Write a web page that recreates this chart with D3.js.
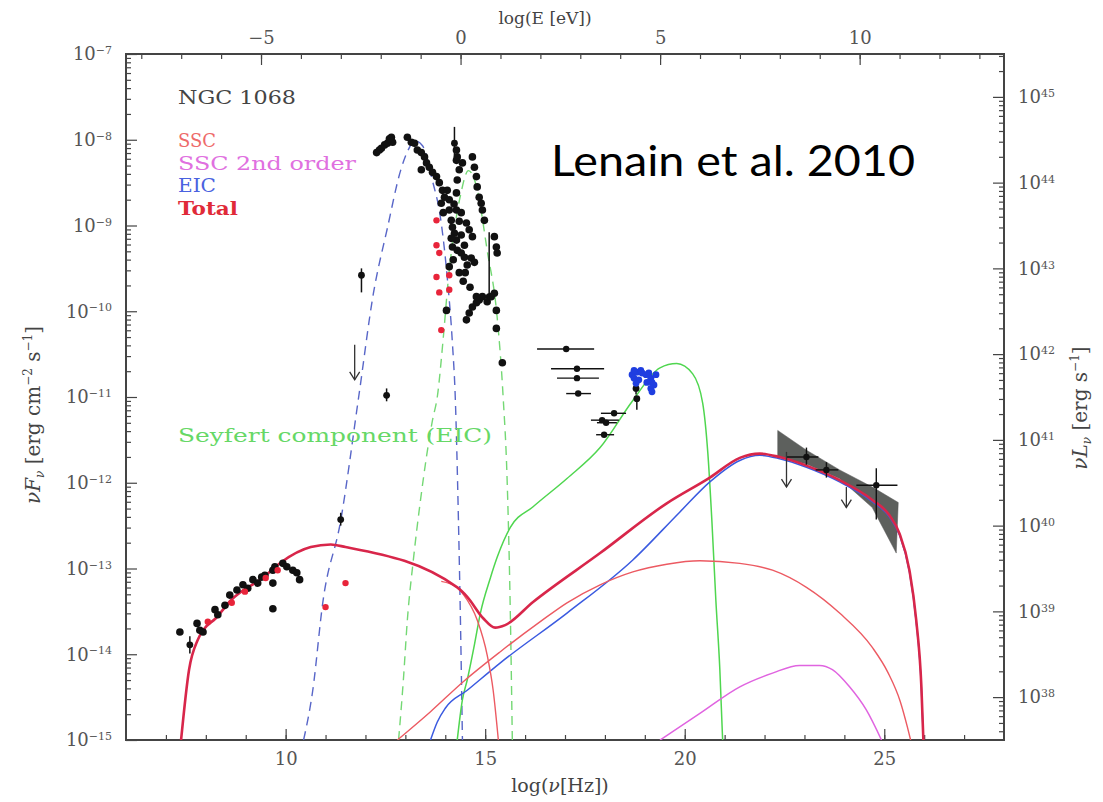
<!DOCTYPE html>
<html>
<head>
<meta charset="utf-8">
<script src="https://cdn.jsdelivr.net/npm/d3@7"></script>
<style>
  body { margin: 0; background: #fff; }
  svg text { font-family: "DejaVu Serif", serif; }
</style>
</head>
<body>
<svg id="chart" width="1103" height="802"></svg>
<script>
// all values as [log nu (Hz), log nuF_nu (erg cm^-2 s^-1)]
const totalModel = [[7.38,-15.0],[7.58,-14.18],[7.8,-13.83],[7.93,-13.72],[8.25,-13.58],[8.63,-13.37],[9.45,-13.1],
  [9.88,-12.93],[10.63,-12.75],[11.13,-12.72],[11.5,-12.75],[14.3,-13.22],[14.55,-13.33],[14.95,-13.58],[15.25,-13.69],
  [15.5,-13.66],[16.2,-13.39],[17.88,-12.82],[19.55,-12.24],[20.63,-11.94],[21.38,-11.71],[21.88,-11.66],[22.38,-11.7],
  [23.05,-11.8],[23.88,-11.97],[24.7,-12.2],[25.13,-12.38],[25.38,-12.59],[25.63,-13.02],[25.8,-13.6],[25.93,-14.38],[25.98,-15.0]];
const sscSync = [[13.9,-13.15],[14.3,-13.22],[14.45,-13.3],[14.8,-13.6],[15.05,-14.01],[15.2,-14.42],[15.33,-15.0]];
const sscIC = [[12.8,-15.0],[13.63,-14.67],[14.45,-14.32],[15.38,-13.97],[16.38,-13.62],[17.05,-13.4],[17.88,-13.19],
  [18.7,-13.04],[19.55,-12.95],[20.38,-12.91],[21.38,-12.94],[22.2,-13.02],[23.05,-13.22],[23.88,-13.52],[24.7,-13.92],
  [25.1,-14.22],[25.4,-14.55],[25.58,-14.85],[25.66,-15.0]];
const ssc2nd = [[19.38,-15.0],[20.38,-14.69],[21.38,-14.38],[22.2,-14.22],[22.88,-14.13],[23.38,-14.13],[23.7,-14.18],
  [24.13,-14.38],[24.55,-14.65],[24.93,-15.0]];
const eicModel = [[13.63,-15.0],[13.8,-14.79],[14.0,-14.63],[14.55,-14.42],[15.38,-14.1],[17.05,-13.52],[18.7,-12.9],
  [19.88,-12.34],[20.63,-11.99],[21.38,-11.74],[21.88,-11.68],[22.38,-11.72],[23.05,-11.82],[23.88,-11.99],[24.7,-12.22],
  [25.13,-12.4],[25.38,-12.61],[25.63,-13.04],[25.8,-13.62],[25.93,-14.4],[25.98,-15.0]];
const seyfertEIC = [[14.3,-15.0],[14.43,-14.53],[14.55,-14.3],[14.73,-13.89],[14.88,-13.52],[15.13,-13.11],[15.3,-12.87],
  [15.63,-12.52],[16.2,-12.28],[17.05,-11.95],[17.88,-11.59],[18.7,-11.04],[19.38,-10.66],[19.8,-10.61],[20.2,-10.73],
  [20.45,-11.07],[20.58,-11.66],[20.68,-12.44],[20.78,-13.37],[20.88,-14.18],[20.95,-15.0]];
const blueBump = [[10.45,-15.0],[10.68,-14.42],[10.93,-13.4],[11.38,-12.44],[11.83,-11.0],[12.2,-9.79],[12.55,-9.03],
  [12.88,-8.36],[13.08,-8.11],[13.23,-8.01],[13.43,-8.07],[13.68,-8.48],[13.88,-8.91],[14.05,-9.61],[14.18,-10.38],
  [14.25,-11.0],[14.33,-12.44],[14.38,-13.6],[14.43,-15.0]];
const greenBump = [[12.83,-15.0],[12.95,-14.3],[13.05,-13.6],[13.2,-12.9],[13.38,-12.2],[13.68,-11.27],[13.8,-11.0],
  [13.95,-10.31],[14.08,-9.61],[14.2,-9.14],[14.38,-8.65],[14.58,-8.36],[14.78,-8.54],[15.05,-9.29],[15.3,-10.07],
  [15.45,-11.0],[15.55,-11.97],[15.63,-13.52],[15.68,-15.0]];

// observations
const blackPts = [[7.35,-13.74],[7.78,-13.64],[7.85,-13.72],[7.93,-13.74],[8.23,-13.48],[8.3,-13.54],[8.48,-13.43],
  [8.6,-13.31],[8.78,-13.25],[8.93,-13.19],[9.05,-13.23],[9.18,-13.13],[9.3,-13.17],[9.4,-13.1],[9.48,-13.08],[9.68,-13.02],
  [9.73,-12.98],[9.93,-12.94],[10.03,-12.98],[10.18,-13.02],[10.28,-13.05],[10.35,-13.13],[9.68,-13.17],[9.68,-13.47],
  [12.28,-8.15],[12.4,-8.1],[12.48,-8.06],[12.55,-8.04],[12.65,-7.97],[12.68,-8.03],[13.05,-7.97],[13.15,-8.03],
  [13.23,-8.04],[13.3,-8.12],[13.4,-8.15],[13.48,-8.2],[13.53,-8.27],[13.6,-8.32],[13.68,-8.38],[13.4,-8.35],
  [13.78,-8.43],[13.85,-8.5],[13.93,-8.59],[13.98,-8.67],[13.9,-8.74],[14.05,-8.59],[14.1,-8.7],[14.1,-8.82],
  [14.15,-8.94],[14.18,-9.02],[14.23,-9.09],[14.28,-9.17],[14.18,-9.25],[14.3,-9.29],[14.4,-9.32],[14.48,-9.37],
  [14.65,-9.38],[14.28,-8.82],[14.4,-8.85],[14.53,-8.97],[14.6,-9.05],[14.68,-9.13],[14.28,-8.62],[14.3,-8.47],
  [14.35,-8.35],[14.28,-8.24],[14.28,-8.12],[14.3,-8.2],[14.43,-8.27],[14.68,-8.2],[14.73,-8.32],[14.78,-8.43],
  [14.8,-8.55],[14.85,-8.67],[14.9,-8.74],[14.93,-8.82],[14.98,-8.94],[15.28,-9.25],[15.3,-9.32],[14.53,-10.1],
  [14.6,-10.02],[14.68,-9.95],[14.78,-9.9],[14.85,-9.87],[14.93,-9.83],[15.05,-9.89],[15.15,-9.83],[15.23,-9.79],
  [14.78,-9.83],[15.28,-9.99],[15.28,-10.2],[15.43,-10.6],[14.1,-9.48],[14.73,-9.43],[14.03,-9.99],[14.4,-9.11],
  [14.48,-9.23],[14.55,-9.46],[15.23,-9.13],[14.2,-9.4],[14.35,-9.55],[14.45,-9.65],[14.22,-8.75],[14.35,-8.95],
  [14.5,-9.55],[14.62,-9.72],[14.15,-9.15],[13.95,-8.85],[12.35,-8.12],[12.6,-7.99]];
// [log nu, log F, log F low, log F high]
const vErrPts = [[7.6,-13.89,-13.99,-13.79],[14.23,-8.04,-8.18,-7.85],[15.1,-9.83,-9.85,-9.08],[11.9,-9.58,-9.78,-9.5],
  [12.53,-10.98,-11.05,-10.9],[11.38,-12.43,-12.5,-12.35],[18.78,-10.9,-10.97,-10.85],[18.8,-11.02,-11.15,-11.0]];
const redPts = [[8.05,-13.62],[8.65,-13.4],[8.98,-13.27],[9.5,-13.11],[9.8,-13.02],[11.0,-13.45],[11.5,-13.17],
  [13.78,-8.94],[13.78,-9.23],[13.85,-9.32],[13.78,-9.6],[13.85,-9.78],[14.1,-9.58],[14.1,-9.75],[13.9,-10.22]];
// [log nu, log F, log nu low, log nu high]
const xrayPts = [[17.03,-10.44,16.3,17.73],[17.3,-10.67,16.65,17.98],[17.3,-10.78,16.8,17.85],[17.33,-10.96,17.03,17.65],
  [17.93,-11.27,17.65,18.35],[18.03,-11.3,17.8,18.3],[18.23,-11.19,17.9,18.53],[17.98,-11.44,17.78,18.23]];
const bluePts = [[18.68,-10.74],[18.73,-10.78],[18.8,-10.71],[18.9,-10.69],[18.93,-10.72],[19.03,-10.74],[19.1,-10.72],
  [19.15,-10.78],[19.18,-10.83],[19.23,-10.86],[19.15,-10.9],[19.18,-10.94],[19.05,-10.83],[18.85,-10.8],[18.78,-10.84],
  [18.73,-10.69],[19.28,-10.74]];
// [log nu, log F, nu low, nu high, F low, F high]
const gammaPts = [[23.05,-11.7,22.55,23.35,-11.79,-11.59],[23.55,-11.85,23.28,23.85,-11.94,-11.76],
  [24.8,-12.03,24.3,25.33,-12.43,-11.83]];
// [log nu, log F top, log F bottom]
const upperLimits = [[11.73,-10.39,-10.8],[22.55,-11.64,-12.05],[24.05,-12.05,-12.29]];
const bowtieTop = [[22.33,-11.39],[23.05,-11.62],[23.88,-11.85],[24.7,-12.05],[25.35,-12.23]];
const bowtieBottom = [[22.33,-11.7],[23.05,-11.78],[23.88,-11.95],[24.7,-12.29],[25.3,-12.82]];

const nuTicks = [10, 15, 20, 25];
const eTicks = [-5, 0, 5, 10];
const fluxDecades = [-15, -14, -13, -12, -11, -10, -9, -8, -7];
const lumDecades = [38, 39, 40, 41, 42, 43, 44, 45];
const logHeV = -14.383; // log E[eV] = log nu + logHeV
const lumOffset = 52.5;  // log nuL_nu = log nuF_nu + lumOffset

const plot = { left: 126, right: 1004, top: 54, bottom: 740 };
const svg = d3.select("#chart");

const x = d3.scaleLinear().domain([6, 28]).range([plot.left, plot.right]);
const xTop = d3.scaleLinear().domain([6 + logHeV, 28 + logHeV]).range([plot.left, plot.right]);
const y = d3.scaleLog().domain([1e-15, 1e-7]).range([plot.bottom, plot.top]);
const yRight = d3.scaleLog().domain([Math.pow(10, -15 + lumOffset), Math.pow(10, -7 + lumOffset)]).range([plot.bottom, plot.top]);

const px = d => x(d[0]);
const py = v => y(Math.pow(10, v));

svg.append("defs").append("clipPath").attr("id", "clip")
  .append("rect").attr("x", plot.left).attr("y", plot.top)
  .attr("width", plot.right - plot.left).attr("height", plot.bottom - plot.top);

const minorLog = (lo, hi) => {
  const out = [];
  for (let d = Math.floor(lo); d < hi; d++) {
    for (let k = 2; k <= 9; k++) {
      const v = Math.log10(k) + d;
      if (v > lo && v < hi) out.push(Math.pow(10, v));
    }
  }
  return out;
};

function supLabels(sel, exps) {
  sel.selectAll(".tick text").each(function(d, i) {
    const t = d3.select(this).text("10");
    t.append("tspan").attr("dy", "-0.55em").style("font-size", "11px")
      .text(exps[i] < 0 ? "\u2212" + (-exps[i]) : exps[i]);
  });
}

const tickColor = "#555";
const labelSize = "18px";

// bottom axis
const gB = svg.append("g").attr("transform", `translate(0,${plot.bottom})`);
gB.call(d3.axisBottom(x).tickValues(d3.range(7, 28)).tickSize(-5).tickFormat(""));
const gB2 = svg.append("g").attr("transform", `translate(0,${plot.bottom})`);
gB2.call(d3.axisBottom(x).tickValues(nuTicks).tickSize(-11).tickPadding(12));
gB2.selectAll("text").style("font-size", labelSize).attr("fill", tickColor);

// top axis
const gT = svg.append("g").attr("transform", `translate(0,${plot.top})`);
gT.call(d3.axisTop(xTop).tickValues(d3.range(-8, 14)).tickSize(-5).tickFormat(""));
const gT2 = svg.append("g").attr("transform", `translate(0,${plot.top})`);
gT2.call(d3.axisTop(xTop).tickValues(eTicks).tickSize(-11).tickPadding(10));
gT2.selectAll("text").style("font-size", labelSize).attr("fill", tickColor);

// left axis
const gL = svg.append("g").attr("transform", `translate(${plot.left},0)`);
gL.call(d3.axisLeft(y).tickValues(minorLog(-15, -7)).tickSize(-5).tickFormat(""));
const gL2 = svg.append("g").attr("transform", `translate(${plot.left},0)`);
gL2.call(d3.axisLeft(y).tickValues(fluxDecades.map(e => Math.pow(10, e))).tickSize(-11).tickPadding(14));
gL2.selectAll("text").style("font-size", labelSize).attr("fill", tickColor);
supLabels(gL2, fluxDecades);

// right axis
const gR = svg.append("g").attr("transform", `translate(${plot.right},0)`);
gR.call(d3.axisRight(yRight).tickValues(minorLog(37.5, 45.5)).tickSize(-5).tickFormat(""));
const gR2 = svg.append("g").attr("transform", `translate(${plot.right},0)`);
gR2.call(d3.axisRight(yRight).tickValues(lumDecades.map(e => Math.pow(10, e))).tickSize(-11).tickPadding(14));
gR2.selectAll("text").style("font-size", labelSize).attr("fill", tickColor);
supLabels(gR2, lumDecades);

svg.selectAll(".domain").remove();
svg.selectAll(".tick line").attr("stroke", "#444").attr("stroke-width", 1.2);

svg.append("rect")
  .attr("x", plot.left).attr("y", plot.top)
  .attr("width", plot.right - plot.left).attr("height", plot.bottom - plot.top)
  .attr("fill", "none").attr("stroke", "#444").attr("stroke-width", 2);

// axis titles
svg.append("text").attr("x", 545).attr("y", 24).attr("text-anchor", "middle")
  .style("font-size", "17px").attr("fill", "#444").text("log(E [eV])");
const xt = svg.append("text").attr("x", 560).attr("y", 792).attr("text-anchor", "middle")
  .style("font-size", "19px").attr("fill", "#444");
xt.append("tspan").text("log(");
xt.append("tspan").style("font-style", "italic").text("\u03bd");
xt.append("tspan").text("[Hz])");

const yt = svg.append("text").attr("transform", "translate(40,415) rotate(-90)")
  .attr("text-anchor", "middle").style("font-size", "20px").attr("fill", "#444");
yt.append("tspan").style("font-style", "italic").text("\u03bdF");
yt.append("tspan").attr("dy", 4).style("font-size", "12px").style("font-style", "italic").text("\u03bd");
yt.append("tspan").attr("dy", -4).text(" [erg cm");
yt.append("tspan").attr("dy", -8).style("font-size", "12px").text("\u22122");
yt.append("tspan").attr("dy", 8).text(" s");
yt.append("tspan").attr("dy", -8).style("font-size", "12px").text("\u22121");
yt.append("tspan").attr("dy", 8).text("]");

const rt = svg.append("text").attr("transform", "translate(1087,408) rotate(-90)")
  .attr("text-anchor", "middle").style("font-size", "20px").attr("fill", "#444");
rt.append("tspan").style("font-style", "italic").text("\u03bdL");
rt.append("tspan").attr("dy", 4).style("font-size", "12px").style("font-style", "italic").text("\u03bd");
rt.append("tspan").attr("dy", -4).text(" [erg s");
rt.append("tspan").attr("dy", -8).style("font-size", "12px").text("\u22121");
rt.append("tspan").attr("dy", 8).text("]");

// model curves
const plotArea = svg.append("g").attr("clip-path", "url(#clip)");
const line = d3.line().x(px).y(d => py(d[1])).curve(d3.curveMonotoneX);

function drawCurve(data, color, width, dash) {
  plotArea.append("path").datum(data)
    .attr("fill", "none").attr("stroke", color).attr("stroke-width", width)
    .attr("stroke-dasharray", dash || null).attr("d", line);
}

// bowtie
const bowtie = bowtieTop.concat(bowtieBottom.slice().reverse());
const bowtieLine = d3.line().x(px).y(d => py(d[1]));
plotArea.append("path").datum(bowtie)
  .attr("fill", "#5d605d").attr("stroke", "#555").attr("stroke-width", 0.5)
  .attr("d", d => bowtieLine(d) + "Z");

drawCurve(blueBump, "#5866c8", 1.4, "9,6");
drawCurve(greenBump, "#74d874", 1.4, "9,6");
drawCurve(seyfertEIC, "#4fd64f", 1.5);
drawCurve(ssc2nd, "#e064e0", 1.5);
drawCurve(eicModel, "#3a5ae0", 1.5);
drawCurve(sscIC, "#ec5a62", 1.4);
drawCurve(sscSync, "#ec5a62", 1.4);
drawCurve(totalModel, "#d8264a", 2.6);

// data
const dataG = svg.append("g").attr("clip-path", "url(#clip)");
const barColor = "#111";

dataG.selectAll(".verr").data(vErrPts).enter().append("line")
  .attr("x1", px).attr("x2", px)
  .attr("y1", d => py(d[2])).attr("y2", d => py(d[3]))
  .attr("stroke", barColor).attr("stroke-width", 1.5);
dataG.selectAll(".vpt").data(vErrPts).enter().append("circle")
  .attr("cx", px).attr("cy", d => py(d[1])).attr("r", 3.4).attr("fill", barColor);

dataG.selectAll(".xbar").data(xrayPts).enter().append("line")
  .attr("x1", d => x(d[2])).attr("x2", d => x(d[3]))
  .attr("y1", d => py(d[1])).attr("y2", d => py(d[1]))
  .attr("stroke", barColor).attr("stroke-width", 1.4);
dataG.selectAll(".xpt").data(xrayPts).enter().append("circle")
  .attr("cx", px).attr("cy", d => py(d[1])).attr("r", 3.2).attr("fill", barColor);

dataG.selectAll(".gx").data(gammaPts).enter().append("line")
  .attr("x1", d => x(d[2])).attr("x2", d => x(d[3]))
  .attr("y1", d => py(d[1])).attr("y2", d => py(d[1]))
  .attr("stroke", barColor).attr("stroke-width", 1.4);
dataG.selectAll(".gy").data(gammaPts).enter().append("line")
  .attr("x1", px).attr("x2", px)
  .attr("y1", d => py(d[4])).attr("y2", d => py(d[5]))
  .attr("stroke", barColor).attr("stroke-width", 1.4);
dataG.selectAll(".gpt").data(gammaPts).enter().append("circle")
  .attr("cx", px).attr("cy", d => py(d[1])).attr("r", 3.2).attr("fill", barColor);

dataG.selectAll(".bpt").data(blackPts).enter().append("circle")
  .attr("cx", px).attr("cy", d => py(d[1])).attr("r", 3.8).attr("fill", barColor);
dataG.selectAll(".rpt").data(redPts).enter().append("circle")
  .attr("cx", px).attr("cy", d => py(d[1])).attr("r", 3.2).attr("fill", "#e8243a");
dataG.selectAll(".blpt").data(bluePts).enter().append("circle")
  .attr("cx", px).attr("cy", d => py(d[1])).attr("r", 3.4).attr("fill", "#1f3ee0");

// upper limits
const ul = dataG.selectAll(".ul").data(upperLimits).enter().append("g");
ul.append("line").attr("x1", px).attr("x2", px)
  .attr("y1", d => py(d[1])).attr("y2", d => py(d[2]))
  .attr("stroke", "#333").attr("stroke-width", 1.3);
ul.append("path")
  .attr("d", d => `M${px(d) - 5},${py(d[2]) - 8} L${px(d)},${py(d[2])} L${px(d) + 5},${py(d[2]) - 8}`)
  .attr("fill", "none").attr("stroke", "#333").attr("stroke-width", 1.3);

// legend
const legend = [
  { text: "NGC 1068", color: "#444", y: 104, len: 118, weight: "normal" },
  { text: "SSC", color: "#ee6a6a", y: 147, len: 38, weight: "normal" },
  { text: "SSC 2nd order", color: "#e070e0", y: 170, len: 178, weight: "normal" },
  { text: "EIC", color: "#4a62e0", y: 192, len: 38, weight: "normal" },
  { text: "Total", color: "#e02a38", y: 215, len: 60, weight: "bold" }
];
svg.selectAll(".leg").data(legend).enter().append("text")
  .attr("x", 178).attr("y", d => d.y)
  .attr("textLength", d => d.len).attr("lengthAdjust", "spacingAndGlyphs")
  .style("font-size", "18px").style("font-weight", d => d.weight)
  .attr("fill", d => d.color).text(d => d.text);

svg.append("text").attr("x", 178).attr("y", 442)
  .attr("textLength", 314).attr("lengthAdjust", "spacingAndGlyphs")
  .style("font-size", "18px").attr("fill", "#66d866").text("Seyfert component (EIC)");

svg.append("text").attr("x", 551).attr("y", 176)
  .attr("textLength", 364).attr("lengthAdjust", "spacingAndGlyphs")
  .style("font-family", "Lato, 'Open Sans', sans-serif").style("font-size", "42px")
  .attr("fill", "#000").text("Lenain et al. 2010");
</script>
</body>
</html>
